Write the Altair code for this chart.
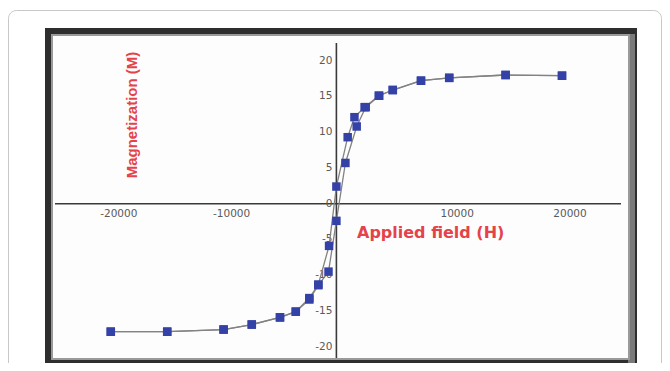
import altair as alt
import pandas as pd

# Hysteresis loop: descending branch (from +H to -H) and ascending branch
h_desc = [20000, 15000, 10000, 7500, 5000, 3750, 2500, 1600, 1000, 0, -650, -1600, -2400, -3600, -5000, -7500, -10000, -15000, -20000]
m_desc = [17.9, 18.0, 17.6, 17.2, 15.9, 15.1, 13.5, 12.1, 9.3, 2.4, -5.9, -11.3, -13.2, -15.1, -15.9, -16.9, -17.6, -17.9, -17.9]
h_asc = [-20000, -15000, -10000, -7500, -5000, -3600, -2400, -1600, -700, 0, 800, 1800, 2600, 3800, 5000, 7500, 10000, 15000, 20000]
m_asc = [-17.9, -17.9, -17.6, -16.9, -15.9, -15.1, -13.4, -11.4, -9.5, -2.4, 5.7, 10.8, 13.5, 15.1, 15.9, 17.2, 17.6, 18.0, 17.9]

x_ticks = [-20000, -10000, 10000, 20000]
x_tick_labels = ["-20000", "-10000", "10000", "20000"]
y_ticks = [20, 15, 10, 5, 0, -5, -10, -15, -20]
y_tick_labels = ["20", "15", "10", "5", "0", "-5", "-10", "-15", "-20"]

x_title = "Applied field (H)"
y_title = "Magnetization (M)"

rows = []
for i, (h, m) in enumerate(zip(h_desc, m_desc)):
    rows.append({"H": h, "M": m, "branch": "desc", "idx": i})
for i, (h, m) in enumerate(zip(h_asc, m_asc)):
    rows.append({"H": h, "M": m, "branch": "asc", "idx": i})
df = pd.DataFrame(rows)

xt = pd.DataFrame({"v": x_ticks, "lab": x_tick_labels})
yt = pd.DataFrame({"v": y_ticks, "lab": y_tick_labels})
one = pd.DataFrame({"a": [0]})

W, H = 654, 355
xs = alt.Scale(domain=[-29113, 28865], nice=False, zero=False)
ys = alt.Scale(domain=[-22.28, 27.37], nice=False, zero=False)

blue = "#3441a6"
red = "#e5434a"
font = "Liberation Sans"

outer = alt.Chart(one).mark_rect(fill="white", stroke="#c8c8c8", strokeWidth=1, cornerRadius=8).encode(
    x=alt.value(0.5), x2=alt.value(653.5), y=alt.value(2.5), y2=alt.value(400))
frame_dark = alt.Chart(one).mark_rect(fill="#2e2e2e").encode(
    x=alt.value(37), x2=alt.value(629), y=alt.value(20), y2=alt.value(355))
frame_right = alt.Chart(one).mark_rect(fill="#7a7a7a").encode(
    x=alt.value(620), x2=alt.value(627), y=alt.value(26), y2=alt.value(355))
frame_bevel = alt.Chart(one).mark_rect(fill="#9a9a9a").encode(
    x=alt.value(43), x2=alt.value(622), y=alt.value(26), y2=alt.value(352))
interior = alt.Chart(one).mark_rect(fill="#fdfdfd").encode(
    x=alt.value(45), x2=alt.value(620), y=alt.value(28), y2=alt.value(350))

h_axis = alt.Chart(one).mark_rule(color="#3a3a3a", strokeWidth=1.6).encode(
    x=alt.value(47), x2=alt.value(613),
    y=alt.Y(datum=0, scale=ys, axis=None))
v_axis = alt.Chart(one).mark_rule(color="#3a3a3a", strokeWidth=1.6).encode(
    x=alt.X(datum=0, scale=xs, axis=None),
    y=alt.value(35), y2=alt.value(350))

x_labels = alt.Chart(xt).mark_text(dy=10, dx=8, fontSize=10.5, color="#5a5a5a", font="DejaVu Sans").encode(
    x=alt.X("v:Q", scale=xs, axis=None),
    y=alt.Y(datum=0, scale=ys, axis=None),
    text="lab:N")
y_labels = alt.Chart(yt).mark_text(align="right", dx=-4, dy=0, fontSize=10.5, color="#5a5a5a", font="DejaVu Sans").encode(
    x=alt.X(datum=0, scale=xs, axis=None),
    y=alt.Y("v:Q", scale=ys, axis=None),
    text="lab:N")

x_title_t = alt.Chart(one).mark_text(align="left", baseline="middle", fontSize=16, fontWeight="bold",
                                     color=red, font="DejaVu Sans").encode(
    x=alt.value(349), y=alt.value(225), text=alt.value(x_title))
y_title_t = alt.Chart(one).mark_text(align="center", baseline="middle", angle=270, fontSize=15,
                                     fontWeight="bold", color=red, font=font).encode(
    x=alt.value(124), y=alt.value(107), text=alt.value(y_title))

lines = alt.Chart(df).mark_line(color="#828282", strokeWidth=1.3).encode(
    x=alt.X("H:Q", scale=xs, axis=None),
    y=alt.Y("M:Q", scale=ys, axis=None),
    detail="branch:N",
    order="idx:O")
points = alt.Chart(df).mark_square(size=72, color=blue, opacity=1).encode(
    x=alt.X("H:Q", scale=xs, axis=None),
    y=alt.Y("M:Q", scale=ys, axis=None))

chart = alt.layer(
    outer, frame_dark, frame_right, frame_bevel, interior,
    h_axis, v_axis, x_labels, y_labels, x_title_t, y_title_t, lines, points
).properties(
    width=W, height=H, padding=0,
    autosize=alt.AutoSizeParams(type="none"),
    background="white"
).configure_view(stroke=None)

chart.save("out.html", embed_options={"renderer": "svg", "actions": False})
